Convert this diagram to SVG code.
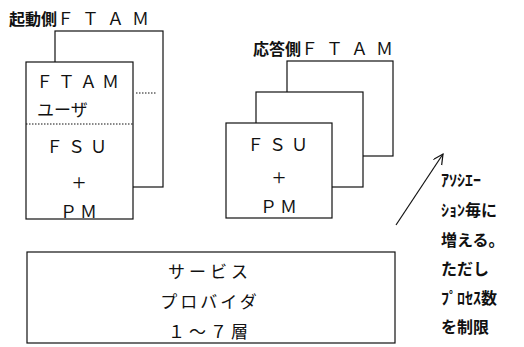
<svg xmlns="http://www.w3.org/2000/svg" width="524" height="347" viewBox="0 0 524 347">
<style>
.b{fill:#fff;stroke:#111;stroke-width:1.2}
.d{stroke:#111;stroke-width:1;stroke-dasharray:1.5 1.5;fill:none}
.t{font-family:"Liberation Serif","Noto Sans CJK JP",serif;font-size:17px;fill:#111;text-anchor:middle}
.p{font-family:"Liberation Serif",serif;font-size:24px;fill:#111;text-anchor:middle}
.h{font-family:"Noto Sans CJK JP",sans-serif;font-size:16px;font-weight:bold;fill:#111}
.n{font-family:"Noto Sans CJK JP",sans-serif;font-size:16px;font-weight:bold;fill:#111}
.w{letter-spacing:8px;font-weight:normal;font-size:17px}
</style>
<defs>
<marker id="ah" markerWidth="12" markerHeight="12" refX="10" refY="5" orient="auto" markerUnits="userSpaceOnUse">
<path d="M0,0 L10,5 L0,10" fill="none" stroke="#111" stroke-width="1.2"/>
</marker>
</defs>
<g id="initiator">
<text class="h" x="9" y="25">起動側<tspan class="w">ＦＴＡＭ</tspan></text>
<rect class="b" x="55" y="31" width="108" height="156"/>
<line class="d" x1="136" y1="93" x2="157" y2="93"/>
<rect class="b" x="26" y="62" width="107" height="157"/>
<line class="d" x1="26" y1="124" x2="133" y2="124"/>
<text class="t" x="80" y="88" letter-spacing="5">ＦＴＡＭ</text>
<text class="t" x="37" y="116" style="text-anchor:start">ユーザ</text>
<text class="t" x="79" y="153" letter-spacing="5">ＦＳＵ</text>
<text class="p" x="79" y="190">+</text>
<text class="t" x="80" y="218" letter-spacing="3">ＰＭ</text>
</g>
<g id="responder">
<text class="h" x="253" y="55">応答側<tspan class="w">ＦＴＡＭ</tspan></text>
<rect class="b" x="287" y="61" width="106" height="95"/>
<rect class="b" x="256" y="92" width="107" height="95"/>
<rect class="b" x="226" y="123" width="106" height="95"/>
<text class="t" x="280" y="151" letter-spacing="5">ＦＳＵ</text>
<text class="p" x="279" y="185">+</text>
<text class="t" x="280" y="213" letter-spacing="3">ＰＭ</text>
</g>
<g id="provider">
<rect class="b" x="27" y="252" width="368" height="91"/>
<text class="t" x="210" y="278" letter-spacing="4">サービス</text>
<text class="t" x="210" y="308" letter-spacing="3">プロバイダ</text>
<text class="t" x="210" y="338" letter-spacing="4">１～７層</text>
</g>
<g id="connectors">
<line x1="396" y1="225" x2="443" y2="154" stroke="#111" stroke-width="1.2" marker-end="url(#ah)"/>
</g>
<g id="note">
<text class="n" x="441" y="186">ｱｿｼｴｰ</text>
<text class="n" x="441" y="216">ｼｮﾝ毎に</text>
<text class="n" x="441" y="246">増える。</text>
<text class="n" x="441" y="275">ただし</text>
<text class="n" x="441" y="304">ﾌﾟﾛｾｽ数</text>
<text class="n" x="441" y="333">を制限</text>
</g>
</svg>
